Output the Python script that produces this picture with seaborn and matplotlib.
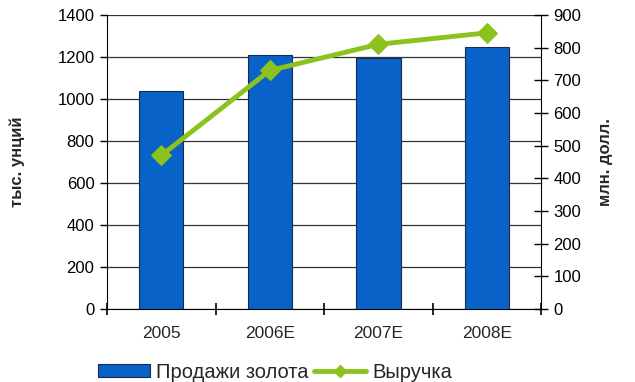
import numpy as np
import pandas as pd
import matplotlib
matplotlib.use('Agg')
import matplotlib.pyplot as plt
import seaborn as sns
from matplotlib.patches import Patch
from matplotlib.lines import Line2D

# Data
years = ['2005', '2006E', '2007E', '2008E']
gold_sales = [1040, 1210, 1195, 1245]   # тыс. унций (left axis)
revenue = [470, 730, 810, 845]          # млн. долл. (right axis)

bar_color = '#0862C8'
line_color = '#8CC21E'

sns.set_style('white')
plt.rcParams['font.family'] = ['Liberation Sans', 'DejaVu Sans']

df = pd.DataFrame({'year': years, 'sales': gold_sales, 'revenue': revenue})

fig = plt.figure(figsize=(6.35, 3.82), dpi=100)
ax = fig.add_axes([0.1685, 0.191, 0.6835, 0.770])

sns.barplot(data=df, x='year', y='sales', color=bar_color, width=0.41,
            edgecolor='#1a2a50', linewidth=0.8, saturation=1, ax=ax, zorder=3)
ax.set_ylim(0, 1400)
ax.set_yticks(np.arange(0, 1401, 200))
ax.yaxis.grid(True, color='#333333', linewidth=0.9, zorder=0)
ax.set_axisbelow(True)
ax.set_xlim(-0.5, 3.5)
ax.set_xlabel('')
ax.set_ylabel('тыс. унций', fontsize=12, fontweight='bold')
ax.yaxis.set_label_coords(-0.19, 0.5)
for s in ['top', 'right']:
    ax.spines[s].set_visible(False)
ax.spines['left'].set_color('black')
ax.spines['bottom'].set_color('black')
ax.tick_params(axis='y', direction='out', length=5, width=1, colors='black',
               labelsize=12, left=True, pad=4)
ax.set_xticks([0, 1, 2, 3])
ax.set_xticklabels(years)
ax.tick_params(axis='x', length=0, labelsize=12.5, pad=12)
# category boundary ticks on x axis
ax.set_xticks([-0.5, 0.5, 1.5, 2.5, 3.5], minor=True)
ax.tick_params(axis='x', which='minor', direction='inout', length=9, width=1.2,
               bottom=True, colors='black')

ax2 = ax.twinx()
sns.lineplot(data=df, x='year', y='revenue', sort=False, color=line_color,
             linewidth=3.5, marker='D', markersize=10, markeredgecolor=line_color,
             ax=ax2, zorder=4)
ax2.set_ylim(0, 900)
ax2.set_yticks(np.arange(0, 901, 100))
ax2.set_xlim(-0.5, 3.5)
ax2.set_ylabel('млн. долл.', fontsize=12, fontweight='bold')
ax2.yaxis.set_label_coords(1.131, 0.5)
for s in ['top', 'left', 'bottom']:
    ax2.spines[s].set_visible(False)
ax2.spines['right'].set_color('black')
ax2.tick_params(axis='y', direction='inout', length=10, width=1, colors='black',
                labelsize=12, right=True, pad=4)

handles = [Patch(facecolor=bar_color, edgecolor='#1a2a50', linewidth=0.8),
           Line2D([], [], color=line_color, linewidth=3.5, marker='D', markersize=6)]
fig.legend(handles, ['Продажи золота', 'Выручка'], loc='center',
           bbox_to_anchor=(0.433, 0.026), ncol=2, frameon=False, fontsize=14.5,
           handlelength=2.6, handleheight=0.55, handletextpad=0.3, columnspacing=0.25)

fig.savefig('out.png', dpi=100)
